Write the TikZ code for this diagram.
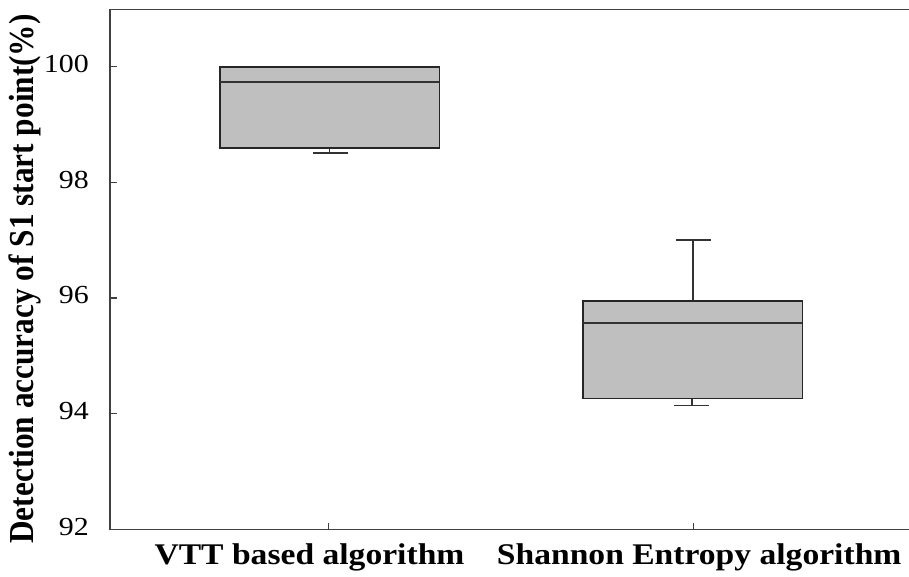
\documentclass[tikz,border=0pt]{standalone}
\usepackage{fontspec}
\setmainfont{Liberation Serif}
\begin{document}
\begin{tikzpicture}[x=1pt,y=-1pt,
  axisline/.style={draw=black!75,line width=1.4pt},
  boxstyle/.style={draw=black!85,fill=black!25,line width=1.6pt},
  medline/.style={draw=black!80,line width=1.3pt},
  whisk/.style={draw=black!80,line width=1.2pt},
  ticklab/.style={anchor=base east,inner sep=0pt,font=\fontsize{26}{26}\selectfont},
  catlab/.style={anchor=base,inner sep=0pt,font=\bfseries\fontsize{30}{30}\selectfont}]
\useasboundingbox (0,0) rectangle (909,576);
% axes frame (open on the right)
\draw[axisline] (909,9.5) -- (110,9.5) -- (110,529.7) -- (909,529.7);
% y ticks
\foreach \yy/\lab in {66.7/100,182.4/98,298.0/96,413.3/94,529.7/92}{
  \draw[axisline,line width=1.1pt] (110,\yy) -- (117,\yy);
  \node[ticklab] (t\lab) at (89,\yy+5.8) {\scalebox{1.15}[1]{\lab}};
}
% x ticks
\draw[axisline,line width=1.1pt] (328.3,529.7) -- (328.3,522.5);
\draw[axisline,line width=1.1pt] (693.7,529.7) -- (693.7,522.5);
% box 1: VTT
\draw[whisk] (329.7,148) -- (329.7,153);
\draw[whisk] (313.3,153) -- (348.3,153);
\draw[boxstyle] (220,66.7) rectangle (439.3,148);
\draw[medline] (220,82) -- (439.3,82);
% box 2: Shannon
\draw[whisk] (693,300.7) -- (693,240);
\draw[whisk] (676,240) -- (710.7,240);
\draw[whisk] (692,398.3) -- (692,405.7);
\draw[whisk] (674.3,405.7) -- (709,405.7);
\draw[boxstyle] (582.7,300.7) rectangle (802.3,398.3);
\draw[medline] (582.7,323) -- (802.3,323);
% category labels
\node[catlab] (c1) at (309.5,564) {\scalebox{1.12}[1]{VTT based algorithm}};
\node[catlab] (c2) at (699.2,564) {\scalebox{1.12}[1]{Shannon Entropy algorithm}};
% y axis label
\node[rotate=90,anchor=base,inner sep=0pt,font=\bfseries\fontsize{31.3}{31.3}\selectfont] (ylab) at (33.5,279) {\scalebox{1}[1.12]{Detection accuracy of S1 start point(\%)}};
\end{tikzpicture}
\end{document}
